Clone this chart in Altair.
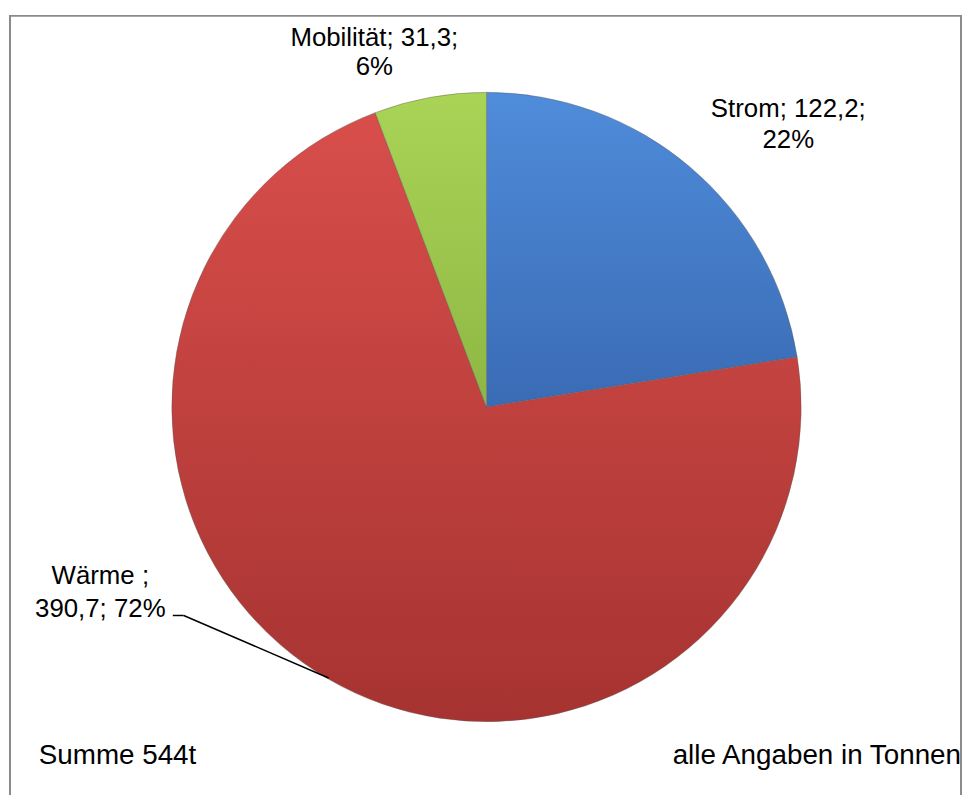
import altair as alt
import pandas as pd

# ---- data ----
categories = ["Strom", "Wärme", "Mobilität"]
label_names = ["Strom", "Wärme ", "Mobilität"]
values = [122.2, 390.7, 31.3]
slice_order = [0, 1, 2]
sum_text = "Summe 544t"
unit_text = "alle Angaben in Tonnen"

total = sum(values)


def de(v):
    return f"{v:.1f}".replace(".", ",")


labels = []
for name, v in zip(label_names, values):
    pct = round(v / total * 100)
    if name.startswith("Wärme"):
        labels.append(f"{name};\n{de(v)}; {pct}%")
    else:
        labels.append(f"{name}; {de(v)};\n{pct}%")

df = pd.DataFrame({"category": categories, "value": values,
                   "order": slice_order, "label": labels})
one = pd.DataFrame({"k": [0]})

# ---- styling ----
W, H = 960, 776
CX, CY, R = 481, 395, 317
FONT = "Liberation Sans"


def grad(top, bottom):
    return alt.Gradient(
        gradient="linear",
        stops=[alt.GradientStop(color=top, offset=0),
               alt.GradientStop(color=bottom, offset=1)],
        x1=0, x2=0, y1=0, y2=1,
    )


fills = {
    "Strom": grad("#4F8CDA", "#3A6BB5"),
    "Wärme": grad("#D84E4B", "#A63331"),
    "Mobilität": grad("#AAD456", "#8DB743"),
}

theta_scale = alt.Scale(domain=[0, total])

base = alt.Chart(df).transform_stack(
    stack="value", as_=["v0", "v1"], groupby=[],
    sort=[alt.SortField("order", order="ascending")],
)

layers = []
for cat in categories:
    layers.append(
        base.transform_filter(alt.datum.category == cat)
        .mark_arc(radius=R, fill=fills[cat], stroke="#5a5a5a", strokeWidth=0.4)
        .encode(
            theta=alt.Theta("v0:Q", scale=theta_scale),
            theta2="v1:Q",
            x=alt.value(CX),
            y=alt.value(CY),
        )
    )

# first-line centre positions of the data labels
label_pos = {
    "Strom": (785, 95, 31),
    "Mobilität": (368, 23, 30),
    "Wärme": (92, 565, 34),
}
for cat in categories:
    lx, ly, lh = label_pos[cat]
    layers.append(
        alt.Chart(df).transform_filter(alt.datum.category == cat)
        .mark_text(font=FONT, fontSize=26, color="#000000", align="center",
                   baseline="middle", lineBreak="\n", lineHeight=lh)
        .encode(text="label:N", x=alt.value(lx), y=alt.value(ly))
    )

# leader line for Wärme label
layers.append(alt.Chart(one).mark_rule(color="#000000", strokeWidth=1.5).encode(
    x=alt.value(165), x2=alt.value(176), y=alt.value(605), y2=alt.value(605)))
layers.append(alt.Chart(one).mark_rule(color="#000000", strokeWidth=1.5).encode(
    x=alt.value(176), x2=alt.value(322), y=alt.value(605), y2=alt.value(668)))

# footnotes
layers.append(alt.Chart(one).mark_text(
    font=FONT, fontSize=28, color="#000000", align="left", baseline="middle",
    text=sum_text).encode(x=alt.value(30), y=alt.value(747)))
layers.append(alt.Chart(one).mark_text(
    font=FONT, fontSize=28, color="#000000", align="right", baseline="middle",
    text=unit_text).encode(x=alt.value(959), y=alt.value(747)))

# outer frame (top, left, right)
frame = "#8a8a8a"
layers.append(alt.Chart(one).mark_rule(color=frame, strokeWidth=2).encode(
    x=alt.value(0), x2=alt.value(W), y=alt.value(1), y2=alt.value(1)))
layers.append(alt.Chart(one).mark_rule(color=frame, strokeWidth=2).encode(
    x=alt.value(1), x2=alt.value(1), y=alt.value(0), y2=alt.value(H + 20)))
layers.append(alt.Chart(one).mark_rule(color=frame, strokeWidth=2).encode(
    x=alt.value(W - 1), x2=alt.value(W - 1), y=alt.value(0), y2=alt.value(H + 20)))

chart = alt.layer(*layers).properties(
    width=W, height=H,
    padding={"top": 3, "left": 0, "right": 0, "bottom": 0},
    background="white",
).configure_view(stroke=None)

chart.save("out.html", embed_options={"renderer": "svg", "actions": False})
